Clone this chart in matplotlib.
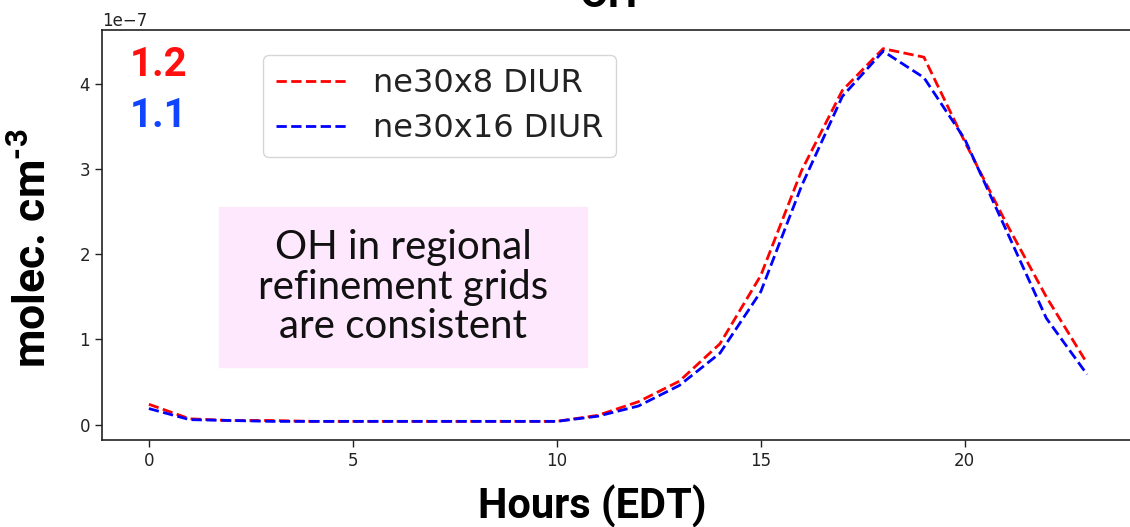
import numpy as np
import matplotlib
matplotlib.use("Agg")
import matplotlib.pyplot as plt
from matplotlib.patches import Rectangle

# diurnal OH, units of 1e-7 molec. cm^-3
hours = np.arange(24)
oh_ne30x8 = [0.24, 0.07, 0.05, 0.05, 0.04, 0.04, 0.04, 0.04, 0.04, 0.04, 0.04, 0.11,
             0.27, 0.51, 0.95, 1.75, 2.98, 3.92, 4.41, 4.31, 3.32, 2.38, 1.50, 0.72]
oh_ne30x16 = [0.19, 0.06, 0.05, 0.04, 0.04, 0.04, 0.04, 0.04, 0.04, 0.04, 0.04, 0.10,
              0.22, 0.46, 0.84, 1.56, 2.80, 3.85, 4.38, 4.07, 3.35, 2.30, 1.25, 0.59]
series_labels = ["ne30x8 DIUR", "ne30x16 DIUR"]
scale = 1e-7

plt.rcParams["mathtext.fontset"] = "custom"
plt.rcParams["mathtext.rm"] = "Roboto:bold"
plt.rcParams["mathtext.bf"] = "Roboto:bold"

W, H = 1130, 527
fig = plt.figure(figsize=(W / 100, H / 100), dpi=100)
ax = fig.add_axes([102 / W, 87 / H, 1032 / W, 410 / H])

ax.plot(hours, np.array(oh_ne30x8) * scale, "r--", lw=2, label=series_labels[0])
ax.plot(hours, np.array(oh_ne30x16) * scale, "b--", lw=2, label=series_labels[1])

ax.tick_params(labelsize=12, length=5, width=1, colors="#222222")
ax.yaxis.get_offset_text().set_fontsize(12)
for sp in ax.spines.values():
    sp.set_linewidth(1.2)
    sp.set_color("#222222")

leg = ax.legend(loc="upper left", bbox_to_anchor=(263 / W, 1 - 55 / H),
                bbox_transform=fig.transFigure, borderaxespad=0,
                prop={"family": "DejaVu Sans", "size": 23},
                handlelength=2.2, handletextpad=0.85, labelspacing=0.45,
                borderpad=0.4)
for t in leg.get_texts():
    t.set_color("#222222")

# note box
fig.patches.append(Rectangle((219 / W, 1 - 367 / H), 368 / W, 160 / H,
                             transform=fig.transFigure, color="#fde8fd", zorder=3))
fig.text(403 / W, 1 - 287 / H, "OH in regional\nrefinement grids\nare consistent",
         ha="center", va="center", fontsize=29, family="Lato",
         linespacing=1.1, color="#111111", zorder=4)

fig.text(130 / W, 1 - 76 / H, "1.2", color="#ff1010", fontsize=29,
         family="Roboto", weight="bold", va="baseline")
fig.text(130 / W, 1 - 127 / H, "1.1", color="#1144ff", fontsize=29,
         family="Roboto", weight="bold", va="baseline")

fig.text(608 / W, 1 - 7 / H, "OH", ha="center", va="baseline", fontsize=30,
         family="Roboto", weight="bold")
fig.text(592 / W, 1 - 518 / H, "Hours (EDT)", ha="center", va="baseline",
         fontsize=30, family="Roboto", weight="bold")
fig.text(33 / W, 1 - 248 / H, r"molec. cm$^{\text{-3}}$", rotation=90,
         ha="center", va="center", fontsize=32, family="Roboto", weight="bold")

fig.savefig("out.png", dpi=100)
